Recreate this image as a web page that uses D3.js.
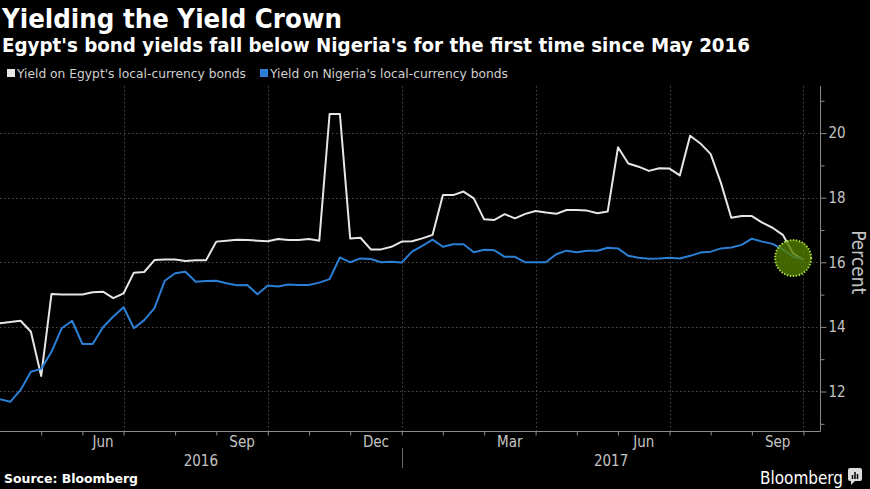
<!DOCTYPE html>
<html><head><meta charset="utf-8">
<script src="https://cdn.jsdelivr.net/npm/d3@7"></script>
<style>
html,body{margin:0;padding:0;background:#000;}
svg{display:block;}
text{font-family:"DejaVu Sans Condensed","DejaVu Sans",sans-serif;font-stretch:condensed;}
</style></head><body>
<svg id="c" width="870" height="489"></svg>
<script>
// Weekly observations (Fridays), 1 Apr 2016 – 29 Sep 2017
const startDate = new Date(2016, 3, 1);
const endDate = new Date(2017, 8, 30);
const egypt = [
  14.11, 14.15, 14.19, 13.85, 12.48, 15.02, 15.00, 15.00, 15.00, 15.07,
  15.09, 14.89, 15.04, 15.68, 15.70, 16.07, 16.09, 16.09, 16.04, 16.06,
  16.06, 16.64, 16.67, 16.70, 16.69, 16.67, 16.65, 16.72, 16.69, 16.69,
  16.72, 16.67, 20.59, 20.59, 16.74, 16.76, 16.40, 16.40, 16.48, 16.64,
  16.65, 16.74, 16.85, 18.08, 18.08, 18.19, 17.98, 17.33, 17.31, 17.49,
  17.36, 17.50, 17.59, 17.54, 17.50, 17.62, 17.62, 17.60, 17.52, 17.57,
  19.56, 19.06, 18.96, 18.83, 18.91, 18.90, 18.69, 19.92, 19.68, 19.35,
  18.45, 17.38, 17.43, 17.43, 17.23, 17.07, 16.85, 16.28, 16.07
];
const nigeria = [
  11.76, 11.68, 12.05, 12.61, 12.70, 13.23, 13.96, 14.19, 13.47, 13.47,
  13.99, 14.32, 14.61, 13.96, 14.21, 14.58, 15.43, 15.66, 15.71, 15.40,
  15.42, 15.43, 15.35, 15.29, 15.30, 15.01, 15.28, 15.25, 15.31, 15.30,
  15.30, 15.37, 15.48, 16.15, 16.00, 16.12, 16.10, 16.00, 16.02, 15.99,
  16.33, 16.51, 16.70, 16.48, 16.56, 16.56, 16.31, 16.39, 16.37, 16.17,
  16.17, 16.00, 16.00, 16.00, 16.25, 16.36, 16.31, 16.36, 16.36, 16.45,
  16.43, 16.20, 16.14, 16.11, 16.12, 16.14, 16.12, 16.20, 16.30, 16.33,
  16.43, 16.46, 16.54, 16.73, 16.64, 16.57, 16.40, 16.17, 16.09
];
const yMajor = [12, 14, 16, 18, 20];
const yMinor = [11, 13, 15, 17, 19, 21];
const quarterMonths = ["Jun", "Sep", "Dec", "Mar"];
const yearLabels = ["2016", "2017"];
const seriesNames = ["Yield on Egypt's local-currency bonds", "Yield on Nigeria's local-currency bonds"];
const highlight = { week: 77, value: 16.13 };

const colors = { egypt: "#e6e6e6", nigeria: "#2b7fd4" };
const svg = d3.select("#c");
const W = 870, H = 489;
const plot = { left: 0, right: 820.5, top: 86, bottom: 431 };

svg.append("rect").attr("width", W).attr("height", H).attr("fill", "#000");

const weeks = d3.timeFriday.range(startDate, endDate);
const x = d3.scaleTime().domain([weeks[0], weeks[weeks.length - 1]]).range([0, 803.4]);
const y = d3.scaleLinear().domain([10.777, 21.458]).range([plot.bottom, plot.top]);

// month-end ticks: last observation of each month
const monthEnds = weeks.filter((d, i) => i === weeks.length - 1 || weeks[i + 1].getMonth() !== d.getMonth());
const fmtMon = d3.timeFormat("%b");
const quarterEnds = monthEnds.filter(d => quarterMonths.includes(fmtMon(d)));

// Grid
const grid = svg.append("g").attr("stroke", "#4a4a4a").attr("stroke-width", 1).attr("stroke-dasharray", "1.5,2.5");
grid.selectAll("line.h").data(yMajor).join("line")
  .attr("x1", plot.left).attr("x2", plot.right)
  .attr("y1", d => Math.round(y(d)) + 0.5).attr("y2", d => Math.round(y(d)) + 0.5);
grid.selectAll("line.v").data(quarterEnds).join("line")
  .attr("x1", d => Math.round(x(d)) + 0.5).attr("x2", d => Math.round(x(d)) + 0.5)
  .attr("y1", plot.top).attr("y2", plot.bottom);

// Lines
const line = d3.line().x((d, i) => x(weeks[i])).y(d => y(d));
svg.append("path").datum(egypt).attr("d", line).attr("fill", "none")
  .attr("stroke", colors.egypt).attr("stroke-width", 2).attr("stroke-linejoin", "round");
svg.append("path").datum(nigeria).attr("d", line).attr("fill", "none")
  .attr("stroke", colors.nigeria).attr("stroke-width", 2).attr("stroke-linejoin", "round");

// Highlight circle
svg.append("circle")
  .attr("cx", x(weeks[highlight.week])).attr("cy", y(highlight.value)).attr("r", 18)
  .attr("fill", "rgb(84,126,0)").attr("fill-opacity", 0.8)
  .attr("stroke", "#a6d93b").attr("stroke-width", 2).attr("stroke-dasharray", "1.5,1.5");

// Bottom axis
const xAxis = d3.axisBottom(x).tickValues(monthEnds).tickSize(4).tickFormat("");
const gx = svg.append("g").attr("transform", `translate(0,${plot.bottom + 0.5})`).call(xAxis);
gx.select(".domain").attr("d", `M${plot.left},0H${plot.right}`).attr("stroke", "#8a8a8a");
gx.selectAll(".tick line").attr("stroke", "#8a8a8a");

// Month labels centred between consecutive month ends
const labelData = monthEnds.map((d, i) => ({ d, prev: i === 0 ? weeks[0] : monthEnds[i - 1] }))
  .filter(o => quarterMonths.includes(fmtMon(o.d)));
svg.append("g").selectAll("text").data(labelData).join("text")
  .attr("x", o => (x(o.prev) + x(o.d)) / 2).attr("y", 447)
  .attr("text-anchor", "middle").attr("fill", "#c4c4c4").attr("font-size", 15)
  .text(o => fmtMon(o.d));

// Year labels
const yearEnd = monthEnds.find(d => d.getFullYear() === 2016 && d.getMonth() === 11);
const yearSpans = [[0, x(yearEnd)], [x(yearEnd), plot.right]];
svg.append("g").selectAll("text").data(yearLabels).join("text")
  .attr("x", (d, i) => (yearSpans[i][0] + yearSpans[i][1]) / 2).attr("y", 466)
  .attr("text-anchor", "middle").attr("fill", "#c4c4c4").attr("font-size", 15)
  .text(d => d);
svg.append("line").attr("x1", Math.round(x(yearEnd)) + 0.5).attr("x2", Math.round(x(yearEnd)) + 0.5)
  .attr("y1", 448).attr("y2", 468).attr("stroke", "#6a6a6a");

// Right axis
const yAxis = d3.axisRight(y).tickValues(yMajor).tickSize(6).tickPadding(2).tickFormat(d3.format("d"));
const gy = svg.append("g").attr("transform", `translate(${plot.right},0)`).call(yAxis);
gy.select(".domain").attr("d", `M0,${plot.top}V${plot.bottom + 0.5}`).attr("stroke", "#8a8a8a");
gy.selectAll(".tick line").attr("stroke", "#8a8a8a");
gy.selectAll(".tick text").attr("fill", "#c4c4c4").attr("font-size", 15)
  .attr("font-family", "'DejaVu Sans Condensed','DejaVu Sans',sans-serif");
const gyMinor = svg.append("g").attr("transform", `translate(${plot.right},0)`)
  .call(d3.axisRight(y).tickValues(yMinor).tickSize(4).tickFormat(""));
gyMinor.select(".domain").remove();
gyMinor.selectAll(".tick line").attr("stroke", "#8a8a8a");

svg.append("text").attr("transform", `translate(852,${y(16)}) rotate(90)`)
  .attr("text-anchor", "middle").attr("fill", "#c4c4c4").attr("font-size", 19).text("Percent");

// Title & subtitle
svg.append("text").attr("x", 2).attr("y", 28).attr("fill", "#fff").attr("font-size", 26)
  .attr("font-weight", "bold").attr("textLength", 340).attr("lengthAdjust", "spacingAndGlyphs")
  .text("Yielding the Yield Crown");
svg.append("text").attr("x", 2).attr("y", 52).attr("fill", "#fff").attr("font-size", 19)
  .attr("font-weight", "bold").attr("textLength", 748).attr("lengthAdjust", "spacingAndGlyphs")
  .text("Egypt's bond yields fall below Nigeria's for the first time since May 2016");

// Legend
const legend = [
  { name: seriesNames[0], color: colors.egypt, sx: 7, tx: 17, tl: 229 },
  { name: seriesNames[1], color: colors.nigeria, sx: 260, tx: 270, tl: 238 }
];
const lg = svg.append("g").selectAll("g").data(legend).join("g");
lg.append("rect").attr("x", d => d.sx).attr("y", 69).attr("width", 8).attr("height", 8).attr("fill", d => d.color);
lg.append("text").attr("x", d => d.tx).attr("y", 77.5).attr("fill", "#d0d0d0").attr("font-size", 12.5)
  .attr("textLength", d => d.tl).attr("lengthAdjust", "spacingAndGlyphs").text(d => d.name);

// Footer
svg.append("text").attr("x", 4).attr("y", 483).attr("fill", "#fff").attr("font-size", 13)
  .attr("font-weight", "bold").attr("textLength", 134).attr("lengthAdjust", "spacingAndGlyphs")
  .text("Source: Bloomberg");
svg.append("text").attr("x", 760).attr("y", 484).attr("fill", "#fff").attr("font-size", 17)
  .attr("textLength", 83).attr("lengthAdjust", "spacingAndGlyphs").text("Bloomberg");
const logo = svg.append("g").attr("transform", "translate(848,468)");
logo.append("rect").attr("width", 14).attr("height", 13).attr("rx", 2).attr("fill", "#ddd");
logo.append("path").attr("d", "M3,13 L3,17 L7,13 Z").attr("fill", "#ddd");
logo.selectAll("line.b").data([[4.5, 7], [7, 4], [9.5, 6]]).join("line")
  .attr("x1", d => d[0]).attr("x2", d => d[0]).attr("y1", 11).attr("y2", d => d[1])
  .attr("stroke", "#000").attr("stroke-width", 1.5);
</script>
</body></html>
